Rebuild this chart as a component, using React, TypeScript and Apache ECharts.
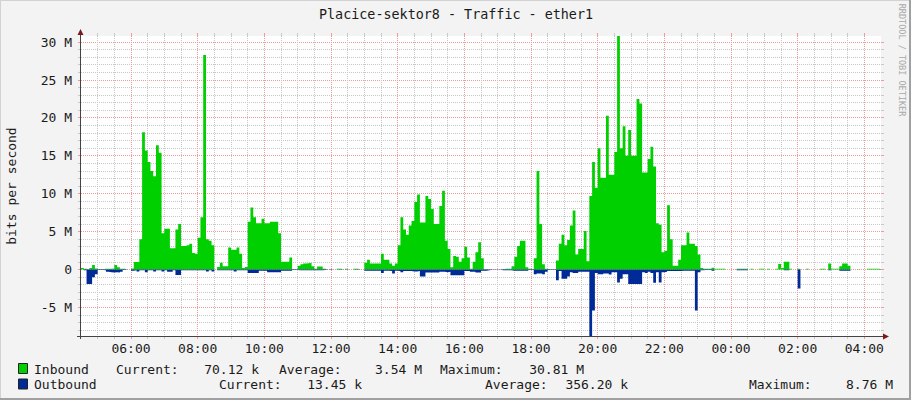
import React, { useEffect, useRef } from "react";
import * as echarts from "echarts";

// 5-minute slots starting at 04:30 (minutes from midnight of the first day)
const SLOT_START = 270;
const SLOT_MIN = 5;
const X_MIN = 270;
const X_MAX = X_MIN + 1440;
const Y_MIN = -8.76;
const Y_MAX = 30.81;

// Inbound traffic, Mbit/s, per 5-minute slot
const inbound0430 = [
  0.2, 0.1, 0.05, 0.2, 0.6, 0.15, 0.05, 0.05, 0.1, 0.1,
  0.1, 0.15, 0.6, 0.3, 0.1, 0.1, 0, 0, 0.15, 1.0,
  1.0, 4.0, 18.1, 15.7, 14.2, 13.0, 12.3, 16.4, 15.4, 4.8,
  5.4, 5.4, 2.8, 2.8, 5.3, 6.0, 3.1, 3.1, 3.2, 3.4,
  2.2, 2.1, 4.2, 6.9, 28.3, 4.0, 3.8, 3.2, 0, 0.35,
  0.9, 0.45, 0.45, 2.9, 2.6, 2.6, 2.9, 2.1, 0.2, 0.35,
  6.3, 8.2, 6.9, 6.1, 6.1, 6.7, 6.1, 6.1, 6.3, 6.3,
  6.3, 4.8,
];
const inbound1030 = [
  1.05, 1.05, 1.05, 1.6, 0.05, 0.02, 0.5, 0.7, 0.8, 0.85,
  0.9, 0.45, 0.1, 0.4, 0.4, 0.1, 0.02, 0, 0, 0,
  0.1, 0.1, 0, 0.1, 0, 0, 0.1, 0.1, 0, 0,
  0.9, 1.3, 0.8, 0.8, 0.8, 0.8, 2.1, 1.3, 1.3, 0.8,
  0.5, 0.8, 3.2, 6.9, 5.3, 4.6, 5.8, 6.4, 8.9, 9.9,
  6.2, 6.2, 9.7, 9.3, 8.0, 6.0, 6.0, 8.4, 10.4, 3.8,
  2.7, 0.3, 1.8, 1.7, 1.05, 1.5, 3.0, 1.6, 0.1, 1.05,
  2.3, 3.6,
];
const inbound1630 = [
  1.5, 0.05, 0.02, 0.02, 0.02, 0.02, 0.02, 0.05, 0.1, 0.1,
  0.1, 0.45, 1.7, 3.1, 3.8, 3.8, 0.3, 0.1, 0.05, 1.5,
  13.0, 6.0, 0.7, 0.1, 0.02, 0.02, 0.02, 1.2, 3.4, 4.6,
  3.2, 3.9, 5.8, 7.8, 2.0, 2.7, 2.7, 5.1, 1.1, 9.7,
  14.2, 10.8, 16.0, 12.1, 12.1, 20.3, 12.5, 12.5, 15.5, 30.81,
  16.0, 18.9, 15.0, 18.4, 15.0, 15.0, 22.5, 21.9, 12.8, 12.8,
  14.6, 16.2, 13.6, 6.1, 5.9, 2.3, 2.5, 8.5, 4.0, 0.5,
  0.5, 1.3,
];
const inbound2230 = [
  3.2, 3.2, 4.9, 3.4, 3.4, 3.1, 2.0, 0.2, 0.1, 0.1,
  0.1, 0.25, 0.1, 0.1, 0.1, 0.1, 0, 0, 0, 0,
  0.1, 0.1, 0.1, 0.1, 0, 0.1, 0, 0, 0.1, 0.1,
  0, 0.1, 0, 0, 0.1, 0.75, 0.2, 1.05, 1.05, 0.1,
  0, 0, 0.1, 0, 0, 0.1, 0, 0, 0, 0,
  0.1, 0.1, 0, 0.8, 0.1, 0.1, 0.1, 0.45, 0.8, 0.8,
  0.5, 0, 0, 0.05, 0, 0, 0, 0.1, 0.1, 0.1,
  0.1, 0.07,
];

// Outbound traffic, Mbit/s (drawn below zero)
const outbound0430 = [
  0, 0.1, 1.9, 1.9, 1.0, 0.6, 0.05, 0.05, 0.1, 0.3,
  0.35, 0.4, 0.35, 0.4, 0.3, 0.05, 0, 0, 0.15, 0.1,
  0.25, 0.1, 0.1, 0.35, 0.1, 0.1, 0.25, 0.1, 0.1, 0.25,
  0.1, 0.3, 0.3, 0.1, 0.7, 0.7, 0.1, 0.1, 0.1, 0.1,
  0.1, 0.1, 0.1, 0.1, 0.1, 0.25, 0.1, 0.25, 0, 0.1,
  0.1, 0.1, 0.1, 0.1, 0.1, 0.25, 0.1, 0.1, 0.1, 0.1,
  0.45, 0.45, 0.45, 0.45, 0.15, 0.15, 0.15, 0.35, 0.35, 0.35,
  0.35, 0.35,
];
const outbound1030 = [
  0.15, 0.15, 0.15, 0.15, 0.05, 0.05, 0.1, 0.1, 0.1, 0.1,
  0.1, 0.1, 0.1, 0.1, 0.1, 0.05, 0, 0.05, 0, 0,
  0.02, 0.02, 0, 0.02, 0, 0, 0.02, 0.02, 0, 0,
  0.15, 0.15, 0.15, 0.15, 0.15, 0.15, 0.45, 0.15, 0.15, 0.2,
  0.5, 0.15, 0.2, 0.35, 0.2, 0.2, 0.2, 0.25, 0.25, 0.2,
  0.9, 0.9, 0.4, 0.4, 0.4, 0.4, 0.4, 0.3, 0.3, 0.35,
  0.3, 0.75, 0.75, 0.75, 0.75, 0.75, 0.2, 0.2, 0.3, 0.3,
  0.4, 0.4,
];
const outbound1630 = [
  0.15, 0.15, 0.1, 0.02, 0.02, 0.02, 0.02, 0.1, 0.1, 0.1,
  0.1, 0.15, 0.15, 0.15, 0.15, 0.15, 0.15, 0.05, 0.05, 0.6,
  0.5, 0.5, 0.6, 0.3, 0.05, 0.05, 0.05, 1.4, 0.2, 1.2,
  1.2, 0.9, 0.35, 0.45, 0.45, 0.3, 0.3, 0.3, 0.3, 8.76,
  5.4, 0.45, 0.6, 0.6, 0.5, 0.5, 0.65, 0.35, 0.35, 1.7,
  1.2, 0.6, 0.6, 1.9, 1.9, 1.9, 1.9, 1.9, 0.35, 0.45,
  0.3, 0.45, 1.75, 0.35, 1.7, 0.35, 0.3, 0.2, 0.2, 0.2,
  0.2, 0.2,
];
const outbound2230 = [
  0.15, 0.15, 0.15, 0.15, 0.15, 5.4, 0.35, 0.1, 0.05, 0.05,
  0.05, 0.15, 0, 0, 0, 0, 0, 0, 0, 0,
  0.1, 0.1, 0.1, 0.1, 0, 0, 0, 0, 0, 0,
  0, 0, 0, 0, 0, 0, 0, 0.1, 0.1, 0,
  0, 0, 2.5, 0, 0, 0, 0, 0, 0, 0,
  0, 0, 0, 0.1, 0, 0, 0, 0.15, 0.15, 0.15,
  0.15, 0, 0, 0, 0, 0, 0, 0, 0, 0,
  0, 0.013,
];

const yLabelValues = [-5, 0, 5, 10, 15, 20, 25, 30];
const xLabelValues = [360, 480, 600, 720, 840, 960, 1080, 1200, 1320, 1440, 1560, 1680];

const legendRows = [
  { name: "Inbound", color: "#00CF00", cur: "70.12 k", avg: "3.54 M", max: "30.81 M" },
  { name: "Outbound", color: "#002A97", cur: "13.45 k", avg: "356.20 k", max: "8.76 M" },
];

const MONO = '"DejaVu Sans Mono", monospace';
const TXT = "#1a1a1a";
const GRID_GREY = "#C8C8C8";
const GRID_RED = "#F09A9A";

const pad2 = (n: number) => String(n).padStart(2, "0");
const fmtTime = (v: number) => {
  const h = Math.floor(v / 60) % 24;
  const m = Math.round(v % 60);
  return `${pad2(h)}:${pad2(m)}`;
};

function toSteps(values: number[], sign: number) {
  const pts: number[][] = values.map((v, i) => [SLOT_START + i * SLOT_MIN, sign * v]);
  pts.push([SLOT_START + values.length * SLOT_MIN, sign * values[values.length - 1]]);
  return pts;
}

export default function App() {
  const ref = useRef<HTMLDivElement>(null);

  useEffect(() => {
    document.body.style.margin = "0";
    if (!ref.current) return;
    const chart = echarts.init(ref.current, undefined, { renderer: "svg" });

    const inbound = [...inbound0430, ...inbound1030, ...inbound1630, ...inbound2230];
    const outbound = [...outbound0430, ...outbound1030, ...outbound1630, ...outbound2230];

    const PLOT_LEFT = 81;
    const PLOT_TOP = 36;
    const PLOT_W = 800;
    const PLOT_H = 300;

    chart.setOption({
      animation: false,
      backgroundColor: "#F3F3F3",
      grid: { left: PLOT_LEFT, top: PLOT_TOP, width: PLOT_W, height: PLOT_H, show: true, backgroundColor: "#FFFFFF", borderWidth: 0, z: 0 },
      xAxis: {
        type: "value",
        min: X_MIN,
        max: X_MAX,
        axisLine: { show: false },
        axisTick: { show: false },
        splitLine: { show: false },
        axisLabel: {
          customValues: xLabelValues,
          formatter: (v: number) => fmtTime(v),
          fontFamily: MONO,
          fontSize: 13,
          color: TXT,
          margin: 6,
        },
      },
      yAxis: {
        type: "value",
        min: Y_MIN,
        max: Y_MAX,
        axisLine: { show: false },
        axisTick: { show: false },
        splitLine: { show: false },
        axisLabel: {
          customValues: yLabelValues,
          formatter: (v: number) => (v === 0 ? "0" : `${v} M`),
          fontFamily: MONO,
          fontSize: 13,
          color: TXT,
          margin: 9,
        },
      },
      series: [
        {
          name: "Inbound",
          type: "line",
          step: "end",
          data: toSteps(inbound, 1),
          symbol: "none",
          showSymbol: false,
          lineStyle: { width: 0, opacity: 0 },
          areaStyle: { color: "#00CF00", opacity: 1 },
          silent: true,
          z: 3,
        },
        {
          name: "Outbound",
          type: "line",
          step: "end",
          data: toSteps(outbound, -1),
          symbol: "none",
          showSymbol: false,
          lineStyle: { width: 0, opacity: 0 },
          areaStyle: { color: "#002A97", opacity: 1 },
          silent: true,
          z: 3,
        },
      ],
    });

    // grid lines placed through the chart's own scales, snapped to whole pixels
    const snap = (p: number) => Math.round(p - 0.5) + 0.5;
    const px = (t: number) => snap(chart.convertToPixel({ xAxisIndex: 0 }, t) as number);
    const py = (v: number) => snap(chart.convertToPixel({ yAxisIndex: 0 }, v) as number);
    const left = PLOT_LEFT;
    const right = PLOT_LEFT + PLOT_W;
    const top = PLOT_TOP;
    const bottom = PLOT_TOP + PLOT_H;

    const gridGraphics: any[] = [];
    for (let v = Math.ceil(Y_MIN); v <= Math.floor(Y_MAX); v++) {
      const color = v % 5 === 0 ? GRID_RED : GRID_GREY;
      const y = py(v);
      gridGraphics.push(
        { type: "line", z: 1, silent: true, shape: { x1: left, y1: y, x2: right, y2: y }, style: { stroke: color, lineWidth: 1, lineDash: [1, 1] } },
        { type: "line", z: 1, silent: true, shape: { x1: left - 3, y1: y, x2: left, y2: y }, style: { stroke: color, lineWidth: 1 } },
        { type: "line", z: 1, silent: true, shape: { x1: right, y1: y, x2: right + 3, y2: y }, style: { stroke: color, lineWidth: 1 } },
      );
    }
    for (let t = Math.ceil((X_MIN + 1) / 30) * 30; t < X_MAX; t += 30) {
      const color = t % 120 === 0 ? GRID_RED : GRID_GREY;
      const x = px(t);
      gridGraphics.push(
        { type: "line", z: 1, silent: true, shape: { x1: x, y1: top, x2: x, y2: bottom }, style: { stroke: color, lineWidth: 1, lineDash: [1, 1] } },
        { type: "line", z: 1, silent: true, shape: { x1: x, y1: top - 3, x2: x, y2: top }, style: { stroke: color, lineWidth: 1 } },
        { type: "line", z: 1, silent: true, shape: { x1: x, y1: bottom, x2: x, y2: bottom + 3 }, style: { stroke: color, lineWidth: 1 } },
      );
    }

    const graphics: any[] = [
      ...gridGraphics,
      // frame
      { type: "rect", shape: { x: 0, y: 0, width: 911, height: 1 }, style: { fill: "#D2D2D2" }, z: 20 },
      { type: "rect", shape: { x: 0, y: 0, width: 1, height: 400 }, style: { fill: "#D2D2D2" }, z: 20 },
      { type: "rect", shape: { x: 0, y: 398, width: 911, height: 2 }, style: { fill: "#A0A0A0" }, z: 20 },
      { type: "rect", shape: { x: 909, y: 0, width: 2, height: 400 }, style: { fill: "#A0A0A0" }, z: 20 },
      // title
      {
        type: "text", x: 456, y: 14, z: 20,
        style: { text: "Placice-sektor8 - Traffic - ether1", font: `13.4px ${MONO}`, fill: TXT, textAlign: "center", textVerticalAlign: "middle" },
      },
      // y axis title
      {
        type: "text", x: 11, y: 186, rotation: Math.PI / 2, z: 20,
        style: { text: "bits per second", font: `13px ${MONO}`, fill: TXT, textAlign: "center", textVerticalAlign: "middle" },
      },
      // watermark
      {
        type: "text", x: 902, y: 60, rotation: -Math.PI / 2, z: 20,
        style: { text: "RRDTOOL / TOBI OETIKER", font: `8.5px ${MONO}`, fill: "#A8A8A8", textAlign: "center", textVerticalAlign: "middle" },
      },
      // axes
      { type: "line", shape: { x1: 80.5, y1: 31, x2: 80.5, y2: 339 }, style: { stroke: "#444", lineWidth: 1 }, z: 20 },
      { type: "line", shape: { x1: 77, y1: 336.5, x2: 884, y2: 336.5 }, style: { stroke: "#444", lineWidth: 1 }, z: 20 },
      { type: "polygon", shape: { points: [[77.5, 35], [83.5, 35], [80.5, 29]] }, style: { fill: "#7A1A1A" }, z: 21 },
      { type: "polygon", shape: { points: [[883, 333.5], [883, 339.5], [889, 336.5]] }, style: { fill: "#7A1A1A" }, z: 21 },
    ];

    legendRows.forEach((row, i) => {
      const y = i === 0 ? 369 : 384.5;
      const cols = i === 0
        ? { cur: 116, curR: 259, avg: 279, avgR: 422, max: 440, maxR: 584 }
        : { cur: 219, curR: 362, avg: 485, avgR: 628, max: 749, maxR: 893 };
      const font = `13px ${MONO}`;
      const t = (text: string, x: number, align: string) => ({
        type: "text", x, y, z: 20,
        style: { text, font, fill: TXT, textAlign: align, textVerticalAlign: "middle" },
      });
      graphics.push(
        { type: "rect", shape: { x: 18.5, y: y - 5.5, width: 9, height: 10 }, style: { fill: row.color, stroke: "#222", lineWidth: 1 }, z: 20 },
        t(row.name, 34, "left"),
        t("Current:", cols.cur, "left"),
        t(row.cur, cols.curR, "right"),
        t("Average:", cols.avg, "left"),
        t(row.avg, cols.avgR, "right"),
        t("Maximum:", cols.max, "left"),
        t(row.max, cols.maxR, "right"),
      );
    });

    chart.setOption({ graphic: graphics });

    return () => chart.dispose();
  }, []);

  return <div ref={ref} style={{ position: "fixed", left: 0, top: 0, width: 911, height: 400 }} />;
}
